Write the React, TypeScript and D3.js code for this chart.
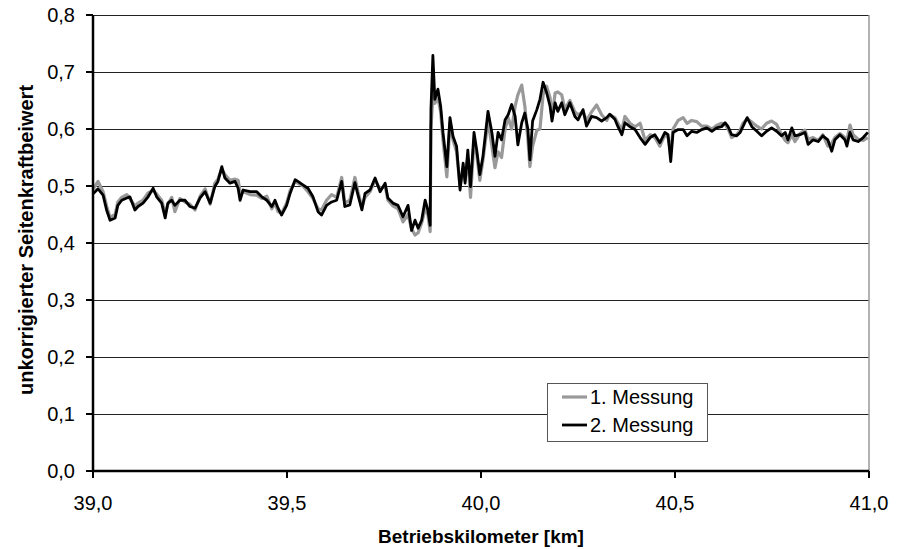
import React from 'react';
import * as d3 from 'd3';

// Betriebskilometer [km]
const km = [
  39.001, 39.013, 39.026, 39.035, 39.044, 39.057, 39.064, 39.074, 39.087, 39.095,
  39.108, 39.116, 39.129, 39.142, 39.155, 39.164, 39.177, 39.186, 39.193, 39.203,
  39.211, 39.224, 39.237, 39.25, 39.263, 39.276, 39.289, 39.302, 39.314, 39.322,
  39.332, 39.34, 39.353, 39.366, 39.374, 39.379, 39.387, 39.405, 39.422, 39.435,
  39.448, 39.461, 39.469, 39.477, 39.486, 39.499, 39.508, 39.521, 39.528, 39.541,
  39.554, 39.567, 39.58, 39.589, 39.602, 39.615, 39.628, 39.641, 39.649, 39.662,
  39.675, 39.683, 39.693, 39.701, 39.714, 39.727, 39.74, 39.753, 39.76, 39.773,
  39.786, 39.799, 39.812, 39.821, 39.83, 39.838, 39.847, 39.856, 39.863, 39.869,
  39.871, 39.876, 39.881, 39.889, 39.896, 39.902, 39.912, 39.92, 39.928, 39.937,
  39.946, 39.954, 39.959, 39.966, 39.973, 39.982, 39.989, 39.997, 40.005, 40.018,
  40.028, 40.036, 40.044, 40.053, 40.062, 40.07, 40.079, 40.088, 40.095, 40.105,
  40.113, 40.121, 40.126, 40.133, 40.144, 40.152, 40.16, 40.169, 40.178, 40.183,
  40.191, 40.198, 40.208, 40.216, 40.229, 40.242, 40.25, 40.263, 40.272, 40.285,
  40.298, 40.311, 40.324, 40.332, 40.345, 40.353, 40.363, 40.371, 40.384, 40.397,
  40.41, 40.423, 40.436, 40.448, 40.461, 40.474, 40.482, 40.489, 40.495, 40.508,
  40.521, 40.531, 40.543, 40.556, 40.569, 40.582, 40.595, 40.607, 40.62, 40.629,
  40.637, 40.646, 40.659, 40.668, 40.675, 40.686, 40.698, 40.711, 40.723, 40.736,
  40.749, 40.762, 40.775, 40.784, 40.791, 40.801, 40.809, 40.822, 40.835, 40.843,
  40.856, 40.869, 40.881, 40.894, 40.904, 40.912, 40.925, 40.938, 40.943, 40.951,
  40.959, 40.972, 40.985, 40.997,
];

// 1. Messung (grau)
const messung1 = [
  0.495, 0.508, 0.49, 0.465, 0.445, 0.45, 0.472, 0.48, 0.485, 0.478,
  0.465, 0.47, 0.475, 0.488, 0.492, 0.486, 0.475, 0.452, 0.468, 0.48,
  0.455, 0.478, 0.472, 0.468, 0.458, 0.482, 0.495, 0.468, 0.505, 0.512,
  0.53, 0.52, 0.51, 0.512, 0.51, 0.49, 0.49, 0.485, 0.484, 0.478,
  0.482, 0.46, 0.47, 0.455, 0.452, 0.47, 0.492, 0.508, 0.505, 0.5,
  0.49, 0.478, 0.46, 0.458, 0.475, 0.485, 0.48, 0.515, 0.47, 0.475,
  0.515, 0.49, 0.462, 0.48, 0.49, 0.51, 0.495, 0.5, 0.475, 0.465,
  0.46, 0.437, 0.45, 0.425, 0.414, 0.418, 0.435, 0.46, 0.45, 0.42,
  0.6, 0.66, 0.645, 0.655, 0.63, 0.58, 0.516, 0.61, 0.58, 0.56,
  0.5, 0.53, 0.51, 0.55, 0.48, 0.58, 0.555, 0.51, 0.545, 0.615,
  0.57, 0.532, 0.56, 0.55, 0.6, 0.62, 0.6, 0.64, 0.66, 0.677,
  0.64, 0.58, 0.534, 0.57, 0.598, 0.6, 0.66, 0.675, 0.655, 0.62,
  0.663, 0.665, 0.66, 0.635, 0.65, 0.63, 0.625, 0.63, 0.615, 0.63,
  0.642, 0.625, 0.615, 0.625, 0.62, 0.61, 0.598, 0.622, 0.61, 0.604,
  0.61, 0.58, 0.59, 0.585, 0.57, 0.59, 0.585, 0.56, 0.6, 0.615,
  0.62, 0.61, 0.615, 0.613, 0.605, 0.605, 0.6, 0.606, 0.61, 0.608,
  0.6, 0.585, 0.59, 0.598, 0.61, 0.618, 0.612, 0.605, 0.6, 0.61,
  0.614, 0.608, 0.59, 0.58, 0.576, 0.59, 0.578, 0.592, 0.598, 0.582,
  0.585, 0.58, 0.59, 0.57, 0.575, 0.585, 0.592, 0.585, 0.58, 0.607,
  0.59, 0.582, 0.58, 0.585,
];

// 2. Messung (schwarz)
const messung2 = [
  0.487, 0.495, 0.484, 0.458, 0.44, 0.444, 0.466, 0.475, 0.479, 0.481,
  0.458, 0.464, 0.47, 0.481, 0.496, 0.481, 0.47, 0.444, 0.47, 0.475,
  0.466, 0.475, 0.475, 0.464, 0.461, 0.479, 0.49, 0.47, 0.499, 0.508,
  0.534, 0.514, 0.505, 0.508, 0.496, 0.475, 0.493, 0.49, 0.49, 0.481,
  0.475, 0.464, 0.475, 0.461, 0.449, 0.466, 0.487, 0.511, 0.508, 0.502,
  0.496, 0.481, 0.455, 0.449, 0.466, 0.472, 0.475, 0.508, 0.464, 0.467,
  0.506, 0.484, 0.458, 0.487, 0.493, 0.514, 0.49, 0.505, 0.479, 0.47,
  0.466, 0.446, 0.466, 0.422, 0.44, 0.426, 0.44, 0.475, 0.458, 0.431,
  0.634, 0.729, 0.652, 0.67, 0.64, 0.594, 0.534, 0.62, 0.587, 0.57,
  0.493, 0.54, 0.505, 0.563, 0.499, 0.594, 0.563, 0.52, 0.552, 0.631,
  0.594, 0.552, 0.594, 0.581, 0.616, 0.625, 0.643, 0.622, 0.572, 0.611,
  0.628, 0.599, 0.546, 0.614, 0.634, 0.652, 0.682, 0.664, 0.64, 0.614,
  0.646, 0.631, 0.646, 0.625, 0.646, 0.622, 0.616, 0.634, 0.605, 0.622,
  0.62, 0.614, 0.62, 0.626, 0.617, 0.604, 0.59, 0.611, 0.604, 0.599,
  0.585, 0.573, 0.585, 0.59, 0.576, 0.594, 0.59, 0.543, 0.594, 0.599,
  0.599, 0.588, 0.596, 0.594, 0.599, 0.602, 0.596, 0.602, 0.604, 0.611,
  0.604, 0.59, 0.588, 0.594, 0.604, 0.62, 0.604, 0.596, 0.588, 0.596,
  0.602, 0.596, 0.588, 0.594, 0.581, 0.602, 0.588, 0.59, 0.594, 0.573,
  0.581, 0.578, 0.588, 0.581, 0.561, 0.581, 0.59, 0.581, 0.57, 0.594,
  0.581, 0.578, 0.585, 0.594,
];

const xTicks = [39.0, 39.5, 40.0, 40.5, 41.0];
const yTicks = [0, 0.1, 0.2, 0.3, 0.4, 0.5, 0.6, 0.7, 0.8];
const seriesNames = ['1. Messung', '2. Messung'];
const seriesColors = ['#999999', '#000000'];
const seriesWidths = [3.2, 2.8];

const width = 901;
const height = 549;
const margin = { top: 15, right: 32, bottom: 78, left: 93 };
const font = '"Liberation Sans", Arial, sans-serif';

const fmt = (v: number) => v.toFixed(1).replace('.', ',');

const App = () => {
  const x = d3.scaleLinear()
    .domain([39, 41])
    .range([margin.left, width - margin.right]);
  const y = d3.scaleLinear()
    .domain([0, 0.8])
    .range([height - margin.bottom, margin.top]);

  const line = d3.line<number>()
    .x((_, i) => x(km[i]))
    .y(d => y(d));

  const series = [messung1, messung2];
  const x0 = margin.left;
  const x1 = width - margin.right;
  const y0 = height - margin.bottom;

  return (
    <svg width={width} height={height}
      style={{ position: 'absolute', left: 0, top: 0, background: '#fff' }}
      fontFamily={font}>
      {/* grid */}
      {yTicks.filter(t => t > 0).map(t => (
        <line key={t} x1={x0} x2={x1} y1={Math.round(y(t)) + 0.5} y2={Math.round(y(t)) + 0.5}
          stroke="#222" strokeWidth={1} />
      ))}
      <line x1={x1} x2={x1} y1={margin.top} y2={y0} stroke="#999" strokeWidth={1.5} />

      {/* series */}
      {series.map((s, i) => (
        <path key={i} d={line(s) || ''} fill="none" stroke={seriesColors[i]}
          strokeWidth={seriesWidths[i]} strokeLinejoin="round" />
      ))}

      {/* axes */}
      <line x1={x0} x2={x0} y1={margin.top} y2={y0} stroke="#000" strokeWidth={2.5} />
      <line x1={x0} x2={x1} y1={y0} y2={y0} stroke="#000" strokeWidth={2.5} />
      {yTicks.map(t => (
        <g key={t}>
          <line x1={x0 - 7} x2={x0} y1={y(t)} y2={y(t)} stroke="#000" strokeWidth={2} />
          <text x={x0 - 18} y={y(t)} dy="0.35em" textAnchor="end" fontSize={20} fill="#000">{fmt(t)}</text>
        </g>
      ))}
      {xTicks.map(t => (
        <g key={t}>
          <line x1={x(t)} x2={x(t)} y1={y0} y2={y0 + 7} stroke="#000" strokeWidth={2} />
          <text x={x(t)} y={y0 + 39} textAnchor="middle" fontSize={20} fill="#000">{fmt(t)}</text>
        </g>
      ))}

      {/* titles */}
      <text x={(x0 + x1) / 2} y={543} textAnchor="middle" fontSize={19} fontWeight="bold" fill="#000">
        Betriebskilometer [km]
      </text>
      <text transform={`translate(33,${(margin.top + y0) / 2 - 3}) rotate(-90)`} textAnchor="middle"
        fontSize={20} fontWeight="bold" fill="#000">
        unkorrigierter Seitenkraftbeiwert
      </text>

      {/* legend */}
      <rect x={547.5} y={383.5} width={160} height={58} fill="#fff" stroke="#555" strokeWidth={1} />
      {seriesNames.map((n, i) => (
        <g key={n} transform={`translate(0,${397 + i * 28})`}>
          <line x1={562} x2={587} y1={0} y2={0} stroke={seriesColors[i]} strokeWidth={seriesWidths[i]} />
          <text x={590} y={0} dy="0.35em" fontSize={20} fill="#000">{n}</text>
        </g>
      ))}
    </svg>
  );
};

export default App;
